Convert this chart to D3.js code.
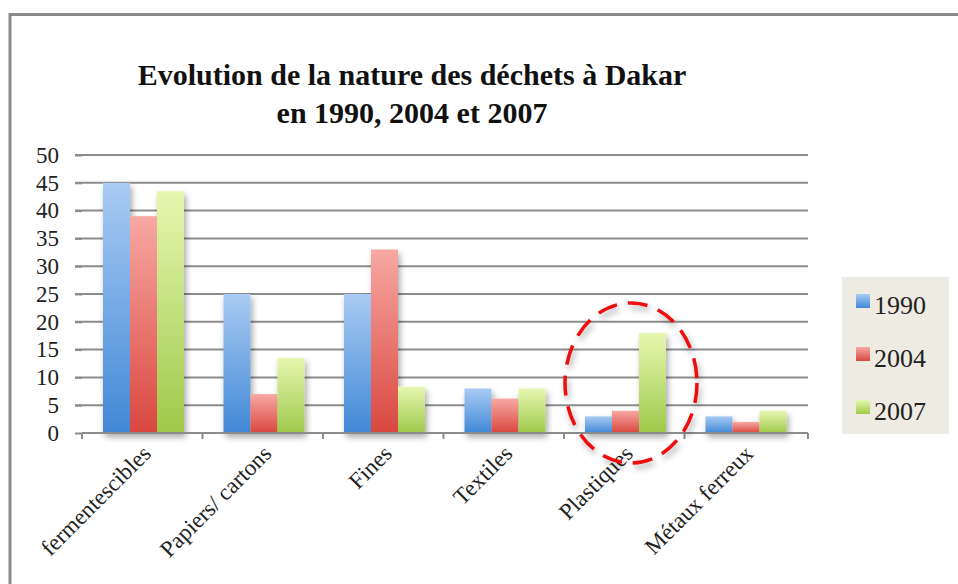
<!DOCTYPE html>
<meta charset="utf-8">
<script src="https://d3js.org/d3.v7.min.js"></script>
<style>
  body { margin: 0; background: #fff; }
</style>
<div id="chart"></div>
<script>
    // data (% of waste)
    var categories = ["fermentescibles", "Papiers/ cartons", "Fines", "Textiles", "Plastiques", "Métaux ferreux"]
    var years = ["1990", "2004", "2007"]
    var v1990 = [45, 25, 25, 8, 3, 3]
    var v2004 = [39, 7, 33, 6.2, 4, 2]
    var v2007 = [43.5, 13.5, 8.3, 8, 18, 4]
    var yTicks = [0, 5, 10, 15, 20, 25, 30, 35, 40, 45, 50]

    var W = 958, H = 584
    var margin = {top: 155, left: 82, right: 153, bottom: 151}
    var width = W - margin.left - margin.right,
        height = H - margin.top - margin.bottom

    var svg = d3.select("#chart").append("svg")
        .attr("width", W).attr("height", H)

    // gradients for the bars
    var defs = svg.append("defs")
    var grads = [
      {id: "g1990", top: "#a9cbf3", bot: "#4188d6"},
      {id: "g2004", top: "#f7a8a3", bot: "#d9473f"},
      {id: "g2007", top: "#e6f7b0", bot: "#9fc94a"}
    ]
    grads.forEach(function(g){
      var lg = defs.append("linearGradient").attr("id", g.id)
          .attr("x1", 0).attr("y1", 0).attr("x2", 0).attr("y2", 1)
      lg.append("stop").attr("offset", "0%").attr("stop-color", g.top)
      lg.append("stop").attr("offset", "100%").attr("stop-color", g.bot)
    })
    var flt = defs.append("filter").attr("id", "shadow")
        .attr("x", "-20%").attr("y", "-20%").attr("width", "140%").attr("height", "140%")
    flt.append("feDropShadow").attr("dx", 2).attr("dy", 4).attr("stdDeviation", 3)
        .attr("flood-color", "#000").attr("flood-opacity", 0.35)

    // frame around the picture (open at right and bottom)
    svg.append("path")
        .attr("d", "M10,600 V14.5 H960")
        .attr("fill", "none").attr("stroke", "#8a8a8a").attr("stroke-width", 3)

    // title
    var title = svg.append("text")
        .attr("text-anchor", "middle")
        .style("font-family", "'Liberation Serif', serif")
        .style("font-weight", "bold")
        .style("font-size", "30px")
        .attr("fill", "#111")
    title.append("tspan").attr("x", 412).attr("y", 85).text("Evolution de la nature des déchets à Dakar")
    title.append("tspan").attr("x", 412).attr("y", 123).text("en 1990, 2004 et 2007")

    var g = svg.append("g").attr("transform", "translate(" + margin.left + "," + margin.top + ")")

    var x = d3.scaleBand().domain(categories).range([0, width]).paddingInner(0).paddingOuter(0)
    var x1 = d3.scaleBand().domain(years).range([21, 21 + 81])
    var y = d3.scaleLinear().domain([0, 50]).range([height, 0])

    // grid lines
    g.selectAll(".grid").data(yTicks.slice(1)).enter().append("line")
        .attr("x1", -7).attr("x2", width + 3)
        .attr("y1", function(d){ return y(d) }).attr("y2", function(d){ return y(d) })
        .attr("stroke", "#8c8c8c").attr("stroke-width", 2)

    // y axis labels
    var yAxis = g.append("g").call(d3.axisLeft(y).tickValues(yTicks).tickSize(7).tickPadding(16))
    yAxis.select(".domain").remove()
    yAxis.selectAll(".tick line").attr("stroke", "#8c8c8c").attr("stroke-width", 2)
    yAxis.selectAll("text")
        .style("font-family", "'Liberation Serif', serif").style("font-size", "23px").attr("fill", "#222")

    // bars
    var series = [v1990, v2004, v2007]
    var rows = []
    categories.forEach(function(c, i){
      years.forEach(function(yr, j){ rows.push({cat: c, year: yr, value: series[j][i]}) })
    })
    g.append("g").attr("filter", "url(#shadow)")
      .selectAll("rect").data(rows).enter().append("rect")
        .attr("x", function(d){ return x(d.cat) + x1(d.year) })
        .attr("width", x1.bandwidth())
        .attr("y", function(d){ return y(d.value) })
        .attr("height", function(d){ return height - y(d.value) })
        .attr("fill", function(d){ return "url(#g" + d.year + ")" })

    // x axis
    var xAxis = g.append("g").attr("transform", "translate(0," + height + ")")
    xAxis.append("line").attr("x1", 0).attr("x2", width + 3)
        .attr("stroke", "#8c8c8c").attr("stroke-width", 2)
    var edges = categories.map(function(c){ return x(c) }).concat([width + 3])
    xAxis.selectAll(".tk").data(edges).enter().append("line")
        .attr("x1", function(d){ return d }).attr("x2", function(d){ return d })
        .attr("y1", 0).attr("y2", 6)
        .attr("stroke", "#8c8c8c").attr("stroke-width", 2)
    xAxis.selectAll(".lab").data(categories).enter().append("text")
        .attr("transform", function(d){
          return "translate(" + (x(d) + x.bandwidth() / 2 + 10) + ",22) rotate(-45)" })
        .attr("text-anchor", "end")
        .style("font-family", "'Liberation Serif', serif").style("font-size", "23px")
        .attr("fill", "#222")
        .text(function(d){ return d })

    // legend
    var leg = svg.append("g").attr("transform", "translate(842,277)")
    leg.append("rect").attr("width", 107).attr("height", 157).attr("fill", "#eeebe3")
    years.forEach(function(yr, i){
      var row = leg.append("g").attr("transform", "translate(0," + (29 + i * 53) + ")")
      row.append("rect").attr("x", 14).attr("y", -12).attr("width", 14).attr("height", 14)
          .attr("fill", "url(#g" + yr + ")")
      row.append("text").attr("x", 32).attr("y", 8)
          .style("font-family", "'Liberation Serif', serif").style("font-size", "26px")
          .attr("fill", "#222").text(yr)
    })

    // red dashed ellipse round Plastiques
    svg.append("ellipse")
        .attr("cx", 631).attr("cy", 383).attr("rx", 66).attr("ry", 80)
        .attr("fill", "none").attr("stroke", "#ee0b0b").attr("stroke-width", 3.5)
        .attr("stroke-dasharray", "20,11")
        .attr("filter", "url(#shadow)")
</script>
